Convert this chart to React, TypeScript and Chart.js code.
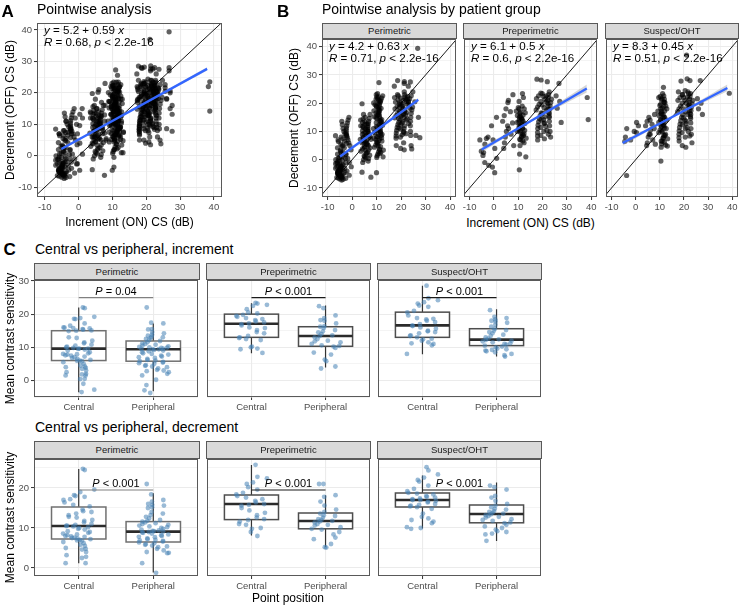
import React, { useEffect, useRef } from "react";
import { Chart, registerables } from "chart.js";

Chart.register(...registerables);

const FONT = "'Liberation Sans', Arial, Helvetica, sans-serif";

// ---------------------------------------------------------------------------
// Pointwise contrast sensitivity (dB): OFF (decrement) values listed under
// each ON (increment) level, one list per level, per patient group.
// ---------------------------------------------------------------------------
const perimetricOn = [-5.5, -3.5, -1.5, 4.5, 6.5, 10, 11.5, 18.5, 21, 23.5, 26.5, -5.0, 5.5, 10.8, 20, 22.3];
const perimetricOff = [
  [-7.2, -6.8, -6.5, -6.3, -6.0, -5.8, -5.6, -5.4, -5.2, -5.0, -4.8, -4.6, -4.4, -4.2, -4.0, -3.8, -3.5, -3.2, -3.0, -2.6, -2.2, -1.8, -1.4, -1.0, -0.5, 0.0, 0.6, 1.2, 2.0, 3.0, 4.2, 5.5, 7.0, 8.5],
  [-6.6, -6.0, -5.5, -5.0, -4.5, -4.0, -3.5, -3.0, -2.4, -1.8, -1.0, -0.3, 0.4, 1.0, 1.8, 2.6, 3.4, 4.2, 5.0, 5.8, 6.6, 7.4, 8.0, 8.6, 9.2, 10.0, 11.0, 12.4, 13.6],
  [-5.5, -4.0, -2.5, -1.0, 0.5, 2.0, 3.5, 5.0, 6.0, 7.0, 7.8, 8.4, 9.0, 9.6, 10.4, 11.2, 12.0, 13.0, 14.0, 15.0],
  [-4.4, -1.0, 0.0, 1.0, 2.0, 3.0, 3.8, 4.6, 5.4, 6.0, 6.6, 7.2, 7.8, 8.4, 9.0, 9.6, 10.2, 10.8, 11.4, 12.0, 12.6, 13.2, 14.0, 15.0, 16.0, 19.8],
  [-6.2, -0.5, 0.6, 1.6, 2.6, 3.4, 4.2, 5.0, 5.8, 6.5, 7.2, 7.9, 8.6, 9.3, 10.0, 10.7, 11.4, 12.1, 12.8, 13.6, 14.6, 16.0],
  [-4.6, 0.8, 1.4, 2.0, 2.8, 3.6, 4.4, 5.2, 6.0, 6.8, 7.5, 8.2, 8.9, 9.6, 10.3, 11.0, 11.7, 12.4, 13.1, 13.8, 14.5, 15.2, 15.9, 16.6, 17.3, 18.0, 18.7, 19.4, 20.1, 20.8, 21.5, 22.2, 23.0],
  [1.0, 2.2, 3.4, 4.6, 5.6, 6.6, 7.4, 8.2, 9.0, 9.8, 10.6, 11.4, 12.2, 13.0, 13.8, 14.6, 15.4, 16.2, 17.0, 17.8, 18.6, 19.4, 20.2, 21.0, 21.8, 22.6, 23.4, 27.3],
  [5.0, 7.6, 8.4, 9.4, 10.4, 11.4, 12.4, 13.2, 14.0, 14.8, 15.6, 16.4, 17.2, 18.0, 18.8, 19.6, 20.4, 21.2, 22.0, 23.0, 26.0, 28.0],
  [3.5, 4.0, 6.0, 8.0, 9.5, 10.8, 12.0, 13.0, 14.0, 15.0, 15.8, 16.6, 17.4, 18.2, 19.0, 19.8, 20.6, 21.4, 22.2, 23.0, 24.0, 27.0, 27.6],
  [3.8, 5.0, 8.6, 10.0, 12.0, 13.6, 15.0, 16.4, 17.6, 18.6, 19.6, 20.6, 21.6, 22.6, 24.0, 26.0, 27.5],
  [7.8, 8.6, 15.0, 20.5, 39.4],
  [-6.9, -6.4, -6.1, -5.7, -5.3, -4.9, -4.5, -4.1, -3.7, -3.3, -2.9, -2.4, -1.9, -1.2, -0.4, 0.8, 2.4, 4.8, 6.4],
  [0.4, 1.4, 2.4, 3.4, 4.4, 5.4, 6.2, 7.0, 7.8, 8.6, 9.4, 10.2, 11.0, 11.8, 12.6, 13.4, 14.4],
  [2.6, 3.8, 5.0, 6.2, 7.0, 7.8, 8.6, 9.4, 10.2, 11.0, 11.8, 12.6, 13.4, 14.2, 15.0, 15.8, 16.6, 17.4, 18.2, 19.0, 19.8, 20.6, 21.4, 22.2],
  [8.8, 10.0, 11.2, 12.4, 13.6, 14.6, 15.4, 16.2, 17.0, 17.8, 18.6, 19.4, 20.2, 21.0, 21.8, 22.6],
  [9.2, 11.0, 12.8, 14.4, 15.8, 17.0, 18.2, 19.4, 20.4, 21.4, 22.4],
];

const preperimetricOn = [-5, -3, 0, 4.5, 7, 10.5, 12, 18.5, 20.5, 22.5, 26.5, 37.5, 11.2, 21.5];
const preperimetricOff = [
  [-1.0, 1.5, 3.0, 7.0],
  [-2.0, 2.5, 5.5, 7.5, 8.0],
  [-4.6, -2.6, 0.5, 4.0, 7.0, 12.0, 15.0],
  [4.0, 6.0, 8.0, 10.0, 12.0, 13.6, 15.6, 18.0, 20.2],
  [5.0, 9.0, 11.0, 13.0, 17.0, 21.0, 23.0],
  [-3.6, 2.0, 5.0, 7.0, 8.0, 9.0, 10.0, 10.8, 11.6, 12.4, 13.2, 14.0, 14.8, 15.6, 16.4, 17.2, 18.0, 19.0, 20.6, 23.4],
  [1.0, 6.6, 7.6, 8.6, 9.6, 10.4, 11.2, 12.0, 12.8, 13.6, 14.4, 15.4, 16.6, 18.0, 22.0],
  [7.0, 8.4, 9.6, 11.0, 12.2, 13.4, 14.6, 15.6, 16.6, 17.6, 18.6, 19.6, 20.6, 21.6, 22.6, 23.6, 28.5],
  [7.4, 8.6, 10.0, 11.4, 12.8, 14.0, 15.2, 16.4, 17.4, 18.4, 19.4, 20.4, 21.4, 22.4, 23.4, 28.2],
  [8.0, 10.0, 12.0, 13.6, 15.0, 16.4, 17.8, 19.0, 20.2, 21.4, 22.6, 27.6],
  [13.2, 18.2, 20.6, 22.6, 27.0],
  [14.2, 22.0],
  [6.0, 7.2, 8.2, 9.2, 10.2, 11.0, 11.8, 12.6, 13.4, 14.2, 15.0, 15.8, 16.8, 18.4],
  [9.0, 10.4, 11.8, 13.0, 14.2, 15.4, 16.6, 17.8, 19.0, 20.0, 21.0, 22.0, 23.0, 24.0],
];

const suspectOn = [-5, -3, 0, 5, 7, 10.5, 12, 18.5, 20.5, 22.5, 26.5, 37.5, 11.2, 21.5];
const suspectOff = [
  [-5.6, 6.5],
  [7.0, 8.0, 11.0],
  [9.6, 10.0, 12.0, 13.2],
  [5.0, 6.0, 8.0, 9.0, 10.5, 12.0, 13.6, 15.0],
  [5.5, 7.0, 9.0, 11.0, 12.5, 14.0, 16.0],
  [-0.5, 4.4, 5.6, 6.6, 7.6, 8.6, 9.6, 10.6, 11.6, 12.4, 13.2, 14.0, 14.8, 15.6, 16.4, 17.2, 18.0, 18.8, 19.6, 20.4, 21.2, 22.0, 23.4],
  [4.8, 6.2, 7.4, 8.6, 9.8, 11.0, 12.0, 13.0, 14.0, 15.0, 16.0, 17.0, 18.0, 19.0, 20.2, 21.4, 22.6, 25.6],
  [6.6, 7.8, 9.0, 10.2, 11.4, 12.6, 13.8, 15.0, 16.0, 17.0, 18.0, 19.0, 20.0, 21.0, 22.0, 23.0, 24.0, 27.8],
  [4.4, 5.0, 8.0, 9.6, 11.0, 12.4, 13.6, 14.8, 16.0, 17.0, 18.0, 19.0, 20.0, 21.0, 22.0, 23.0, 24.0, 28.6, 37.0],
  [6.0, 9.0, 11.0, 13.0, 14.6, 16.0, 17.4, 18.6, 19.8, 21.0, 22.2, 23.4, 28.0],
  [16.0, 18.0, 20.0, 21.6, 28.0],
  [23.5],
  [5.2, 6.6, 7.8, 9.0, 10.2, 11.2, 12.2, 13.2, 14.2, 15.2, 16.2, 17.2, 18.2, 19.2, 20.4, 21.6, 22.4],
  [8.4, 10.0, 11.4, 12.8, 14.0, 15.2, 16.4, 17.4, 18.4, 19.4, 20.4, 21.4, 22.4, 23.4, 24.4],
];

// Linear fits, in order: all points, Perimetric, Preperimetric, Suspect/OHT
const fitIntercept = [5.2, 4.2, 6.1, 8.3];
const fitSlope = [0.59, 0.63, 0.5, 0.45];
const fitR = [0.68, 0.71, 0.6, 0.51];
const fitP = ["2.2e-16", "2.2e-16", "2.2e-16", "2.2e-16"];
const fitXMin = [-5.1, -4.9, -5.0, -5.4];
const fitXMax = [38.0, 27.0, 38.2, 38.0];
// confidence band half-width (dB) at the left end, the centre and the right end
const bandHalf = [
  [0.45, 0.15, 0.55],
  [0.55, 0.2, 0.6],
  [1.0, 0.35, 1.4],
  [0.9, 0.3, 1.2],
];

const groups = ["Perimetric", "Preperimetric", "Suspect/OHT"];
const positions = ["Central", "Peripheral"];

// ---------------------------------------------------------------------------
// Mean contrast sensitivity per eye, central vs peripheral points.
// Outer index: Perimetric, Preperimetric, Suspect/OHT.
// ---------------------------------------------------------------------------
const incCentral = [
  [22.0, 21.8, 19.2, 18.8, 18.6, 18.5, 17.2, 16.5, 16.0, 15.9, 15.8, 15.7, 15.5, 15.3, 15.1, 15.0, 14.9, 13.0, 12.8, 12.0, 11.5, 11.2, 10.8, 10.5, 10.2, 10.0, 9.8, 9.6, 9.6, 9.5, 9.3, 9.0, 8.5, 8.2, 8.0, 7.9, 7.8, 7.6, 7.5, 7.2, 7.0, 6.8, 6.5, 6.2, 6.0, 5.9, 5.8, 5.5, 5.0, 4.5, 4.2, 4.0, 3.8, 3.5, 3.0, 2.5, 2.0, 1.8, 1.5, 1.5, 0.5, 0.4, -1.0, -2.8, -3.5],
  [23.4, 23.2, 22.8, 22.5, 21.5, 20.5, 20.2, 19.8, 19.5, 19.2, 18.8, 18.5, 18.2, 17.8, 17.5, 17.2, 17.0, 16.6, 16.0, 15.8, 15.2, 14.6, 14.2, 13.4, 13.0, 12.8, 12.5, 12.2, 10.2, 10.0, 9.6, 9.4, 8.3],
  [28.6, 24.8, 24.2, 23.6, 23.2, 22.6, 22.2, 21.0, 20.5, 19.6, 18.8, 18.6, 18.4, 18.0, 17.6, 17.0, 16.6, 16.4, 16.0, 15.6, 15.0, 14.8, 14.6, 14.2, 13.6, 13.4, 13.0, 12.6, 12.4, 12.0, 11.5, 11.2, 11.0, 10.6, 8.0],
];
const incPeripheral = [
  [22.0, 17.4, 17.2, 15.5, 15.4, 14.6, 14.2, 13.8, 13.5, 13.2, 13.0, 12.8, 12.5, 12.2, 11.9, 11.5, 11.2, 11.0, 10.8, 10.5, 10.3, 10.1, 10.0, 9.9, 9.8, 9.6, 9.5, 9.4, 9.4, 9.2, 9.0, 8.8, 8.5, 8.2, 8.0, 7.8, 7.5, 7.2, 7.0, 6.8, 6.5, 6.2, 6.0, 5.8, 5.6, 5.4, 5.2, 5.0, 4.6, 4.4, 4.2, 4.0, 3.6, 3.2, 3.0, 2.8, 2.5, 2.0, 1.5, 0.2, -1.4, -3.0, -3.8],
  [22.4, 21.8, 19.6, 18.8, 18.2, 18.0, 17.2, 16.4, 16.2, 15.8, 15.2, 14.8, 14.5, 14.0, 13.6, 13.4, 13.0, 12.5, 12.0, 11.8, 11.5, 11.0, 10.6, 10.4, 10.2, 9.8, 8.4, 7.8, 6.3, 5.8, 4.2, 3.6],
  [21.2, 19.2, 18.8, 18.4, 18.0, 17.8, 17.4, 16.8, 16.2, 15.6, 15.2, 15.0, 14.6, 14.2, 13.8, 13.4, 13.0, 12.6, 12.4, 12.2, 12.0, 11.8, 11.5, 11.2, 11.0, 10.8, 10.5, 10.2, 10.0, 9.6, 9.4, 9.2, 9.0, 8.8, 8.5, 8.0, 7.6, 7.2],
];
const decCentral = [
  [24.8, 24.5, 19.6, 19.0, 18.2, 18.0, 17.8, 17.2, 17.0, 16.4, 15.8, 15.4, 14.6, 14.2, 14.0, 13.6, 13.2, 12.8, 12.6, 12.0, 11.8, 11.4, 11.0, 10.8, 10.6, 10.5, 10.4, 10.2, 10.0, 9.8, 9.6, 9.2, 9.0, 8.8, 8.6, 8.4, 8.2, 8.0, 7.9, 7.8, 7.6, 7.5, 7.4, 7.2, 7.0, 6.9, 6.8, 6.5, 6.2, 5.8, 5.5, 5.0, 4.8, 4.6, 4.0, 3.2, 2.8, 2.5, 1.2, 1.2],
  [25.8, 22.8, 22.4, 21.4, 21.0, 20.2, 19.6, 18.8, 18.4, 18.0, 17.6, 17.2, 16.8, 16.4, 16.0, 15.8, 15.6, 15.0, 14.4, 13.8, 13.2, 12.6, 12.2, 12.0, 11.6, 11.0, 10.8, 10.0, 9.8, 9.0, 8.0],
  [25.2, 24.4, 23.4, 22.6, 22.0, 21.6, 20.6, 19.8, 19.2, 18.8, 18.6, 18.4, 18.0, 17.8, 17.6, 17.4, 17.2, 17.0, 17.0, 16.8, 16.6, 16.4, 16.0, 15.8, 15.6, 15.4, 15.2, 14.8, 13.6, 12.8, 12.4, 12.0, 11.6, 11.2, 10.2, 10.0, 9.8],
];
const decPeripheral = [
  [21.0, 18.4, 17.0, 16.6, 16.0, 15.8, 15.6, 15.2, 15.0, 14.0, 13.6, 13.2, 12.8, 12.4, 12.0, 11.8, 11.6, 11.4, 11.2, 11.0, 10.8, 10.6, 10.4, 10.2, 10.0, 9.8, 9.6, 9.4, 9.3, 9.2, 9.1, 9.0, 8.9, 8.8, 8.6, 8.4, 8.2, 8.0, 7.8, 7.7, 7.4, 7.2, 7.0, 6.9, 6.8, 6.6, 6.4, 6.2, 6.0, 5.8, 5.6, 5.4, 5.2, 4.8, 4.4, 4.0, 3.8, 3.7, 1.2, -1.2],
  [21.0, 21.0, 18.2, 17.8, 16.6, 15.6, 14.6, 14.0, 13.6, 13.2, 13.0, 12.6, 12.2, 12.0, 11.8, 11.6, 11.4, 11.0, 10.8, 10.6, 10.2, 9.8, 9.6, 9.0, 8.4, 7.6, 7.2, 6.0, 5.2, 5.1],
  [20.6, 20.2, 19.6, 18.0, 17.6, 16.8, 16.0, 15.6, 15.2, 14.8, 14.6, 14.2, 14.0, 13.8, 13.6, 13.4, 13.2, 13.0, 12.8, 12.6, 12.2, 12.0, 11.8, 11.4, 11.2, 10.8, 10.4, 10.0, 9.6, 9.2, 9.0, 8.6, 8.4, 6.8],
];

// Box summaries: [lower whisker, Q1, median, Q3, upper whisker]
const incBoxCentral = [
  [-3.6, 6.0, 9.6, 15.0, 22.0],
  [8.2, 13.0, 17.1, 20.0, 23.3],
  [7.9, 13.0, 16.6, 20.6, 28.6],
];
const incBoxPeripheral = [
  [-3.3, 5.8, 9.4, 11.9, 17.2],
  [3.9, 10.3, 13.4, 16.2, 22.6],
  [7.2, 10.5, 12.3, 15.6, 21.5],
];
const decBoxCentral = [
  [1.2, 7.25, 10.5, 15.25, 24.75],
  [8.1, 12.1, 16.0, 18.25, 25.75],
  [9.9, 15.25, 17.0, 18.75, 23.1],
];
const decBoxPeripheral = [
  [-1.1, 6.5, 9.1, 11.6, 18.7],
  [5.25, 9.8, 11.75, 13.75, 18.2],
  [6.75, 11.3, 13.5, 15.75, 21.4],
];

const incPLabels = ["P = 0.04", "P < 0.001", "P < 0.001"];
const decPLabels = ["P < 0.001", "P < 0.001", "P < 0.001"];
const incBracketY = 25.0;
const decBracketY = 19.5;

// ---------------------------------------------------------------------------
// helpers
// ---------------------------------------------------------------------------
type Pt = { x: number; y: number };

// deterministic horizontal jitter in [-1, 1]
function jitter(k: number): number {
  const f = (k * 0.6180339887 + k * k * 0.0137) % 1;
  return f * 2 - 1;
}

function columnsToPoints(on: number[], off: number[][]): Pt[] {
  const pts: Pt[] = [];
  on.forEach((level, c) => {
    off[c].forEach((v, i) => pts.push({ x: level + jitter(c * 17 + i + 3) * 1.3, y: v }));
  });
  return pts;
}

const perimetricPts = columnsToPoints(perimetricOn, perimetricOff);
const preperimetricPts = columnsToPoints(preperimetricOn, preperimetricOff);
const suspectPts = columnsToPoints(suspectOn, suspectOff);
const allPts = [...perimetricPts, ...preperimetricPts, ...suspectPts];
const groupPts = [perimetricPts, preperimetricPts, suspectPts];

type Seg = [string, boolean];

function drawRich(ctx: CanvasRenderingContext2D, segs: Seg[], x: number, y: number, size: number, align: "left" | "center") {
  const widths = segs.map(([t, it]) => {
    ctx.font = `${it ? "italic " : ""}${size}px ${FONT}`;
    return ctx.measureText(t).width;
  });
  const total = widths.reduce((a, b) => a + b, 0);
  let cx = align === "center" ? x - total / 2 : x;
  ctx.textAlign = "left";
  ctx.textBaseline = "alphabetic";
  segs.forEach(([t, it], i) => {
    ctx.font = `${it ? "italic " : ""}${size}px ${FONT}`;
    ctx.fillText(t, cx, y);
    cx += widths[i];
  });
}

function gridOpts(isMajor: (v: number) => boolean, drawTicks: boolean) {
  return {
    color: "#ebebeb",
    lineWidth: (c: any) => (c.tick && isMajor(c.tick.value) ? 1.1 : 0.55),
    drawTicks,
    tickLength: 3,
    tickWidth: 1,
    tickColor: (c: any) => (c.tick && isMajor(c.tick.value) ? "#333333" : "rgba(0,0,0,0)"),
  };
}

const tickFont = { family: FONT, size: 9.5 };
const titleFont = { family: FONT, size: 12 };

const borderPlugin = {
  id: "panelBorder",
  afterDraw(chart: any) {
    const { ctx, chartArea: a } = chart;
    ctx.save();
    ctx.strokeStyle = "#595959";
    ctx.lineWidth = 1;
    ctx.strokeRect(Math.round(a.left) + 0.5, Math.round(a.top) + 0.5, Math.round(a.right - a.left) - 1, Math.round(a.bottom - a.top) - 1);
    ctx.restore();
  },
};

type Pad = { top: number; right: number; bottom: number; left: number };

const X_RANGE = [-12.3, 42.4];
const majorTen = (v: number) => Math.abs(v % 10) < 1e-9;

function scatterConfig(p: {
  points: Pt[];
  fit: number;
  yRange: number[];
  showY: boolean;
  yWidth: number;
  xHeight: number;
  pad: Pad;
  yTitle: string;
  xTitle: string;
}) {
  const i = p.fit;
  const line = (x: number) => fitIntercept[i] + fitSlope[i] * x;
  const x0 = fitXMin[i];
  const x1 = fitXMax[i];
  const xc = p.points.reduce((s, q) => s + q.x, 0) / p.points.length;
  const [hl, hm, hr] = bandHalf[i];
  const half = (x: number) => {
    const end = x < xc ? hl : hr;
    const span = x < xc ? xc - x0 : x1 - xc;
    const t = (x - xc) / span;
    return Math.sqrt(hm * hm + (end * end - hm * hm) * t * t);
  };
  const xs = Array.from({ length: 41 }, (_, k) => x0 + ((x1 - x0) * k) / 40);

  const eqPlugin = {
    id: "equation",
    afterDatasetsDraw(chart: any) {
      const { ctx, chartArea: a } = chart;
      ctx.save();
      ctx.fillStyle = "#000";
      drawRich(ctx, [["y", true], [` = ${fitIntercept[i]} + ${fitSlope[i]} `, false], ["x", true]], a.left + 7, a.top + 11.2, 11.6, "left");
      drawRich(ctx, [["R", true], [` = ${fitR[i]}, `, false], ["p", true], [` < ${fitP[i]}`, false]], a.left + 7, a.top + 22.8, 11.6, "left");
      ctx.restore();
    },
  };

  return {
    type: "scatter",
    data: {
      datasets: [
        {
          type: "scatter",
          data: p.points,
          pointRadius: 2.6,
          pointBackgroundColor: "rgba(0,0,0,0.62)",
          pointBorderWidth: 0,
          order: 4,
          clip: 0,
        },
        {
          type: "line",
          data: [{ x: -20, y: -20 }, { x: 50, y: 50 }],
          borderColor: "#000",
          borderWidth: 0.9,
          pointRadius: 0,
          order: 3,
          clip: 0,
        },
        {
          type: "line",
          data: xs.map((x) => ({ x, y: line(x) + half(x) })),
          borderColor: "rgba(0,0,0,0)",
          borderWidth: 0,
          pointRadius: 0,
          fill: false,
          order: 2,
          clip: 0,
        },
        {
          type: "line",
          data: xs.map((x) => ({ x, y: line(x) - half(x) })),
          borderColor: "rgba(0,0,0,0)",
          borderWidth: 0,
          pointRadius: 0,
          fill: "-1",
          backgroundColor: "rgba(153,153,153,0.4)",
          order: 2,
          clip: 0,
        },
        {
          type: "line",
          data: [{ x: x0, y: line(x0) }, { x: x1, y: line(x1) }],
          borderColor: "#3366ff",
          borderWidth: 2.3,
          pointRadius: 0,
          order: 1,
          clip: 0,
        },
      ],
    },
    options: {
      responsive: false,
      animation: false,
      events: [],
      layout: { padding: p.pad },
      plugins: { legend: { display: false }, tooltip: { enabled: false } },
      scales: {
        x: {
          type: "linear",
          min: X_RANGE[0],
          max: X_RANGE[1],
          afterFit: (s: any) => {
            s.height = p.xHeight;
          },
          border: { display: false },
          grid: gridOpts(majorTen, true),
          ticks: {
            stepSize: 5,
            includeBounds: false,
            autoSkip: false,
            maxRotation: 0,
            padding: 1.5,
            color: "#4d4d4d",
            font: tickFont,
            callback: (v: any) => (majorTen(v) ? String(v) : ""),
          },
          title: { display: !!p.xTitle, text: p.xTitle, color: "#000", font: titleFont, padding: { top: 0, bottom: 2 } },
        },
        y: {
          type: "linear",
          min: p.yRange[0],
          max: p.yRange[1],
          afterFit: (s: any) => {
            s.width = p.yWidth;
          },
          border: { display: false },
          grid: gridOpts(majorTen, p.showY),
          ticks: {
            display: p.showY,
            stepSize: 5,
            includeBounds: false,
            autoSkip: false,
            padding: 2,
            color: "#4d4d4d",
            font: tickFont,
            callback: (v: any) => (majorTen(v) ? String(v) : ""),
          },
          title: { display: !!p.yTitle, text: p.yTitle, color: "#000", font: titleFont, padding: { top: 3, bottom: 0 } },
        },
      },
    },
    plugins: [eqPlugin, borderPlugin],
  };
}

function boxConfig(p: {
  central: number[];
  peripheral: number[];
  statsC: number[];
  statsP: number[];
  pLabel: string;
  bracketY: number;
  yRange: number[];
  showY: boolean;
  yWidth: number;
  xHeight: number;
  pad: Pad;
  yTitle: string;
  boxColor: string;
  bracketColor: string;
}) {
  const pts: Pt[] = [
    ...p.central.map((v, i) => ({ x: 1 + jitter(i * 3 + 1) * 0.21, y: v })),
    ...p.peripheral.map((v, i) => ({ x: 2 + jitter(i * 3 + 2) * 0.21, y: v })),
  ];
  const stats = [p.statsC, p.statsP];

  const boxPlugin = {
    id: "boxes",
    beforeDatasetsDraw(chart: any) {
      const { ctx, scales } = chart;
      const xs = scales.x;
      const ys = scales.y;
      stats.forEach((s, k) => {
        const cx = xs.getPixelForValue(k + 1);
        const hw = xs.getPixelForValue(k + 1 + 0.365) - cx;
        const [mn, q1, md, q3, mx] = s.map((v) => ys.getPixelForValue(v));
        ctx.save();
        ctx.strokeStyle = "#333";
        ctx.lineWidth = 1.2;
        ctx.beginPath();
        ctx.moveTo(cx, mx);
        ctx.lineTo(cx, q3);
        ctx.moveTo(cx, q1);
        ctx.lineTo(cx, mn);
        ctx.stroke();
        ctx.fillStyle = "#fff";
        ctx.fillRect(cx - hw, q3, 2 * hw, q1 - q3);
        ctx.strokeStyle = p.boxColor;
        ctx.lineWidth = 1.5;
        ctx.strokeRect(cx - hw, q3, 2 * hw, q1 - q3);
        ctx.strokeStyle = "#2b2b2b";
        ctx.lineWidth = 2.6;
        ctx.beginPath();
        ctx.moveTo(cx - hw, md);
        ctx.lineTo(cx + hw, md);
        ctx.stroke();
        ctx.restore();
      });
    },
    afterDatasetsDraw(chart: any) {
      const { ctx, scales } = chart;
      const xa = scales.x.getPixelForValue(1);
      const xb = scales.x.getPixelForValue(2);
      const yb = scales.y.getPixelForValue(p.bracketY);
      ctx.save();
      ctx.strokeStyle = p.bracketColor;
      ctx.lineWidth = 1.2;
      ctx.beginPath();
      ctx.moveTo(xa, yb);
      ctx.lineTo(xb, yb);
      ctx.stroke();
      ctx.fillStyle = "#000";
      drawRich(ctx, [[p.pLabel.slice(0, 1), true], [p.pLabel.slice(1), false]], (xa + xb) / 2, yb - 2.8, 11, "center");
      ctx.restore();
    },
  };

  return {
    type: "scatter",
    data: {
      datasets: [
        {
          data: pts,
          pointRadius: 2.4,
          pointBackgroundColor: "rgba(70,130,180,0.55)",
          pointBorderWidth: 0,
          clip: 0,
        },
      ],
    },
    options: {
      responsive: false,
      animation: false,
      events: [],
      layout: { padding: p.pad },
      plugins: { legend: { display: false }, tooltip: { enabled: false } },
      scales: {
        x: {
          type: "linear",
          min: 0.4,
          max: 2.6,
          afterBuildTicks: (s: any) => {
            s.ticks = [{ value: 1 }, { value: 2 }];
          },
          afterFit: (s: any) => {
            s.height = p.xHeight;
          },
          border: { display: false },
          grid: gridOpts(() => true, true),
          ticks: {
            autoSkip: false,
            maxRotation: 0,
            padding: 2,
            color: "#4d4d4d",
            font: tickFont,
            callback: (v: any) => positions[Math.round(v) - 1],
          },
        },
        y: {
          type: "linear",
          min: p.yRange[0],
          max: p.yRange[1],
          afterFit: (s: any) => {
            s.width = p.yWidth;
          },
          border: { display: false },
          grid: gridOpts(majorTen, p.showY),
          ticks: {
            display: p.showY,
            stepSize: 5,
            includeBounds: false,
            autoSkip: false,
            padding: 2,
            color: "#4d4d4d",
            font: tickFont,
            callback: (v: any) => (majorTen(v) ? String(v) : ""),
          },
          title: { display: !!p.yTitle, text: p.yTitle, color: "#000", font: titleFont, padding: { top: 3, bottom: 0 } },
        },
      },
    },
    plugins: [boxPlugin, borderPlugin],
  };
}

// ---------------------------------------------------------------------------
// components
// ---------------------------------------------------------------------------
function ChartCanvas({ left, top, width, height, build }: { left: number; top: number; width: number; height: number; build: () => any }) {
  const ref = useRef<HTMLCanvasElement | null>(null);
  useEffect(() => {
    if (!ref.current) return;
    const chart = new Chart(ref.current, build());
    return () => chart.destroy();
  }, []);
  return <canvas ref={ref} width={width} height={height} style={{ position: "absolute", left, top, width, height }} />;
}

function Label({ left, top, size, bold, text, center }: { left: number; top: number; size: number; bold?: boolean; text: string; center?: boolean }) {
  const style: React.CSSProperties = {
    position: "absolute",
    top,
    fontSize: size,
    lineHeight: `${size}px`,
    fontWeight: bold ? 700 : 400,
    whiteSpace: "nowrap",
    color: "#000",
  };
  if (center) {
    style.left = left - 200;
    style.width = 400;
    style.textAlign = "center";
  } else {
    style.left = left;
  }
  return <div style={style}>{text}</div>;
}

function Strip({ left, top, width, height, text }: { left: number; top: number; width: number; height: number; text: string }) {
  return (
    <div
      style={{
        position: "absolute",
        left,
        top,
        width,
        height,
        boxSizing: "border-box",
        border: "1px solid #595959",
        background: "#d9d9d9",
        color: "#1a1a1a",
        fontSize: 9.5,
        lineHeight: `${height - 2}px`,
        textAlign: "center",
        whiteSpace: "nowrap",
      }}
    >
      {text}
    </div>
  );
}

const B_PANELS = [
  { left: 284, width: 176, yWidth: 38, pad: { top: 9, right: 3, bottom: 0, left: 0 }, plotLeft: 322, plotWidth: 135 },
  { left: 460, width: 141, yWidth: 0, pad: { top: 9, right: 3, bottom: 0, left: 3 }, plotLeft: 463, plotWidth: 135 },
  { left: 602, width: 140, yWidth: 0, pad: { top: 9, right: 3, bottom: 0, left: 3 }, plotLeft: 605, plotWidth: 134 },
];

const C_PANELS = [
  { left: 0, width: 202, yWidth: 34, padL: 0, padR: 2, plotLeft: 34, plotWidth: 166 },
  { left: 203, width: 171, yWidth: 0, padL: 3, padR: 3, plotLeft: 206, plotWidth: 165 },
  { left: 374, width: 171, yWidth: 0, padL: 3, padR: 3, plotLeft: 377, plotWidth: 165 },
];

const boxColors = ["#707070", "#4d4d4d", "#4d4d4d"];
const bracketColors = ["#808080", "#1a1a1a", "#1a1a1a"];

export default function App() {
  return (
    <div
      style={{
        position: "absolute",
        left: 0,
        top: 0,
        width: 742,
        height: 607,
        background: "#fff",
        overflow: "hidden",
        fontFamily: FONT,
      }}
    >
      {/* A: all points */}
      <ChartCanvas
        left={0}
        top={14}
        width={226}
        height={218}
        build={() =>
          scatterConfig({
            points: allPts,
            fit: 0,
            yRange: [-13.1, 42.2],
            showY: true,
            yWidth: 37,
            xHeight: 35,
            pad: { top: 9, right: 3, bottom: 0, left: 0 },
            yTitle: "Decrement (OFF) CS (dB)",
            xTitle: "Increment (ON) CS (dB)",
          })
        }
      />

      {/* B: one panel per patient group */}
      {B_PANELS.map((b, g) => (
        <ChartCanvas
          key={`b${g}`}
          left={b.left}
          top={30}
          width={b.width}
          height={185}
          build={() =>
            scatterConfig({
              points: groupPts[g],
              fit: g + 1,
              yRange: [-13.2, 42.7],
              showY: g === 0,
              yWidth: b.yWidth,
              xHeight: 18,
              pad: b.pad,
              yTitle: g === 0 ? "Decrement (OFF) CS (dB)" : "",
              xTitle: "",
            })
          }
        />
      ))}

      {/* C: increment row */}
      {C_PANELS.map((c, g) => (
        <ChartCanvas
          key={`ci${g}`}
          left={c.left}
          top={268}
          width={c.width}
          height={150}
          build={() =>
            boxConfig({
              central: incCentral[g],
              peripheral: incPeripheral[g],
              statsC: incBoxCentral[g],
              statsP: incBoxPeripheral[g],
              pLabel: incPLabels[g],
              bracketY: incBracketY,
              yRange: [-5.0, 30.3],
              showY: g === 0,
              yWidth: c.yWidth,
              xHeight: 21,
              pad: { top: 12, right: c.padR, bottom: 0, left: c.padL },
              yTitle: g === 0 ? "Mean contrast sensitivity" : "",
              boxColor: boxColors[g],
              bracketColor: bracketColors[g],
            })
          }
        />
      ))}

      {/* C: decrement row */}
      {C_PANELS.map((c, g) => (
        <ChartCanvas
          key={`cd${g}`}
          left={c.left}
          top={445}
          width={c.width}
          height={155}
          build={() =>
            boxConfig({
              central: decCentral[g],
              peripheral: decPeripheral[g],
              statsC: decBoxCentral[g],
              statsP: decBoxPeripheral[g],
              pLabel: decPLabels[g],
              bracketY: decBracketY,
              yRange: [-2.0, 27.25],
              showY: g === 0,
              yWidth: c.yWidth,
              xHeight: 24,
              pad: { top: 14, right: c.padR, bottom: 0, left: c.padL },
              yTitle: g === 0 ? "Mean contrast sensitivity" : "",
              boxColor: boxColors[g],
              bracketColor: bracketColors[g],
            })
          }
        />
      ))}

      {/* strips */}
      {B_PANELS.map((b, g) => (
        <Strip key={`sb${g}`} left={b.plotLeft} top={23} width={b.plotWidth} height={16} text={groups[g]} />
      ))}
      {C_PANELS.map((c, g) => (
        <Strip key={`sc1${g}`} left={c.plotLeft} top={263} width={c.plotWidth} height={17} text={groups[g]} />
      ))}
      {C_PANELS.map((c, g) => (
        <Strip key={`sc2${g}`} left={c.plotLeft} top={441} width={c.plotWidth} height={18} text={groups[g]} />
      ))}

      {/* panel letters and titles */}
      <Label left={1.5} top={3} size={17} bold text="A" />
      <Label left={37} top={1.5} size={14} text="Pointwise analysis" />
      <Label left={277} top={3} size={17} bold text="B" />
      <Label left={322} top={1.5} size={14} text="Pointwise analysis by patient group" />
      <Label left={530.5} top={216.8} size={12} center text="Increment (ON) CS (dB)" />
      <Label left={3.5} top={240.8} size={17} bold text="C" />
      <Label left={35} top={241.5} size={14} text="Central vs peripheral, increment" />
      <Label left={35} top={420} size={14} text="Central vs peripheral, decrement" />
      <Label left={288} top={591.5} size={12} center text="Point position" />
    </div>
  );
}
